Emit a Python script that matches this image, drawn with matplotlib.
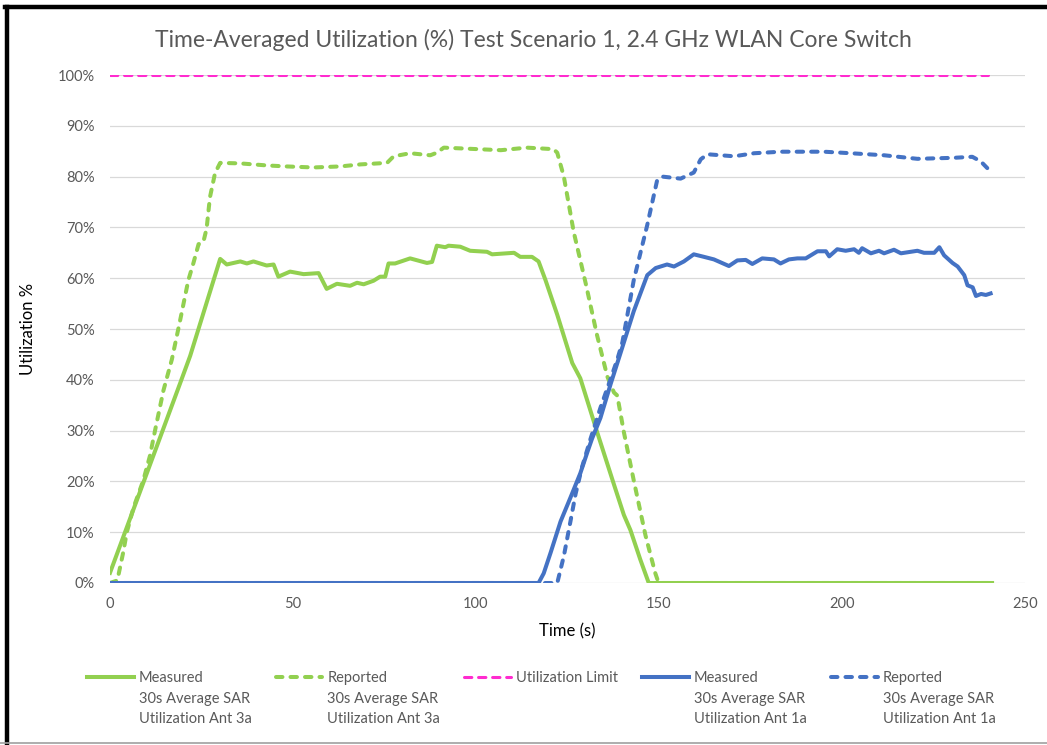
import matplotlib
matplotlib.use("Agg")
import matplotlib.pyplot as plt
from matplotlib.lines import Line2D
from matplotlib.ticker import FuncFormatter

plt.rcParams['font.family'] = ['Lato', 'DejaVu Sans']

# Measured 30s average SAR utilization, Ant 3a (green solid)
t_meas_3a = [0, 19.1, 21.9, 30.1, 31.9, 35.6, 37.4, 39.2, 42.8, 44.7, 46.0, 49.2, 52.9, 57.0,
             59.2, 62.0, 65.6, 67.5, 69.3, 72.0, 73.8, 75.2, 76.1, 77.9, 82.0, 86.6, 88.0, 89.3,
             91.6, 92.5, 95.7, 98.4, 103.0, 104.4, 110.4, 112.1, 115.3, 117.1, 119.0, 122.2,
             126.3, 128.5, 133.1, 137.6, 140.4, 142.2, 144.9, 147.2, 241]
u_meas_3a = [2, 39.2, 44.7, 63.8, 62.7, 63.3, 62.9, 63.3, 62.5, 62.7, 60.3, 61.3, 60.8, 61.0,
             57.9, 58.9, 58.5, 59.1, 58.8, 59.5, 60.3, 60.3, 62.9, 62.9, 63.9, 63.0, 63.2, 66.4,
             66.1, 66.4, 66.2, 65.4, 65.2, 64.7, 65.0, 64.2, 64.2, 63.3, 59.6, 52.8,
             43.3, 40.3, 29.7, 19.6, 13.4, 10.4, 4.6, 0, 0]

# Reported 30s average SAR utilization, Ant 3a (green dashed)
t_rep_3a = [0, 2.0, 3.6, 4.6, 6.4, 9.1, 10.9, 12.3, 14.6, 16.9, 19.1, 21.4, 22.8, 24.2, 25.5,
            26.4, 27.3, 28.7, 30.1, 35.6, 42.8, 48.3, 55.6, 62.9, 68.4, 75.7, 77.5, 82.0, 87.5,
            89.3, 91.2, 97.5, 106.8, 113.9, 121.2, 122.2, 124.0, 126.7, 130.0, 133.1, 135.9,
            137.7, 138.6, 140.4, 143.1, 146.3, 149.0, 149.9, 240]
u_rep_3a = [0, 0.5, 6.0, 10.0, 14.8, 20.2, 25.0, 30.0, 37.9, 44.0, 51.5, 59.6, 63.0, 66.7, 67.1,
            69.8, 75.9, 80.7, 82.7, 82.6, 82.2, 82.0, 81.8, 82.0, 82.4, 82.7, 84.0, 84.6, 84.2,
            84.7, 85.7, 85.5, 85.2, 85.7, 85.4, 84.7, 80.0, 69.1, 58.9, 48.7, 40.6,
            37.5, 36.9, 29.7, 20.2, 9.4, 1.9, 0, 0]

# Utilization limit
t_limit = [0, 240]
u_limit = [100, 100]

# Measured 30s average SAR utilization, Ant 1a (blue solid)
t_meas_1a = [0, 117.1, 118.5, 120.4, 123.1, 125.8, 128.5, 130.4, 131.7, 134.0, 136.8, 139.5,
             143.1, 146.8, 149.1, 152.2, 154.1, 156.8, 159.5, 162.3, 165.0, 169.1, 171.4, 173.7,
             175.5, 178.2, 181.4, 183.2, 185.5, 187.8, 190.1, 193.3, 195.6, 196.5, 198.7, 201.0,
             203.3, 204.6, 205.5, 207.9, 210.1, 211.5, 214.2, 216.1, 220.6, 222.4, 225.2, 226.6,
             227.9, 230.2, 231.6, 233.4, 234.3, 235.7, 236.6, 238.0, 239.3, 240.6]
u_meas_1a = [0, 0, 1.9, 6.0, 12.1, 16.8, 21.6, 25.7, 28.4, 32.5, 39.2, 45.3,
             53.5, 60.6, 62.0, 62.7, 62.3, 63.3, 64.7, 64.2, 63.7, 62.4, 63.5, 63.6,
             62.8, 63.9, 63.7, 62.9, 63.7, 63.9, 63.9, 65.3, 65.3, 64.3, 65.7, 65.4,
             65.7, 65.0, 65.9, 64.9, 65.4, 64.9, 65.6, 64.9, 65.4, 65.0, 65.0, 66.1,
             64.5, 63.0, 62.3, 60.6, 58.6, 58.2, 56.5, 56.9, 56.7, 57.0]

# Reported 30s average SAR utilization, Ant 1a (blue dashed)
t_rep_1a = [0, 122.2, 124.0, 125.8, 127.2, 129.0, 131.3, 134.0, 136.3, 138.6, 140.0, 143.1,
            146.8, 149.5, 150.9, 155.9, 159.5, 161.4, 163.2, 170.5, 176.0, 183.3, 195.1, 202.4,
            211.5, 220.6, 230.6, 235.6, 237.9, 240.6]
u_rep_1a = [0, 0, 5.3, 12.1, 17.5, 22.9, 28.4, 34.5, 39.2, 44.0, 47.4, 59.6,
            70.5, 79.3, 80.0, 79.6, 80.8, 83.4, 84.4, 84.0, 84.6, 84.9, 84.9, 84.6,
            84.2, 83.5, 83.7, 83.9, 83.0, 81.0]

labels = ["Measured\n30s Average SAR\nUtilization Ant 3a",
          "Reported\n30s Average SAR\nUtilization Ant 3a",
          "Utilization Limit",
          "Measured\n30s Average SAR\nUtilization Ant 1a",
          "Reported\n30s Average SAR\nUtilization Ant 1a"]

green = "#92D050"
blue = "#4472C4"
pink = "#FF2BCF"
grey = "#595959"
dash = (1.6, 2.0)

fig = plt.figure(figsize=(10.47, 7.45), dpi=100)
ax = fig.add_axes([110 / 1047, 1 - 583 / 745, 915 / 1047, 508 / 745])

lw = 2.9
ax.plot(t_meas_3a, u_meas_3a, color=green, lw=lw, solid_joinstyle='round', label=labels[0])
ax.plot(t_rep_3a, u_rep_3a, color=green, lw=lw, ls=(0, dash), dash_capstyle='round',
        dash_joinstyle='round', label=labels[1])
ax.plot(t_limit, u_limit, color=pink, lw=2.2, ls=(0, (2.4, 2.2)), dash_capstyle='round',
        label=labels[2])
ax.plot(t_meas_1a, u_meas_1a, color=blue, lw=lw, solid_joinstyle='round', label=labels[3])
ax.plot(t_rep_1a, u_rep_1a, color=blue, lw=lw, ls=(0, dash), dash_capstyle='round',
        dash_joinstyle='round', label=labels[4])

ax.set_xlim(0, 250)
ax.set_ylim(0, 100)
ax.set_xticks(range(0, 251, 50))
ax.set_yticks(range(0, 101, 10))
ax.yaxis.set_major_formatter(FuncFormatter(lambda v, p: f"{v:.0f}%"))
ax.grid(axis='y', color="#D9D9D9", lw=0.9)
ax.set_axisbelow(True)
for s in ax.spines.values():
    s.set_visible(False)
ax.tick_params(length=0, labelsize=10.5, labelcolor=grey)
ax.tick_params(axis='y', pad=11)
ax.tick_params(axis='x', pad=10)

ax.set_xlabel("Time (s)", fontsize=12, color='black')
ax.xaxis.set_label_coords(0.5, -0.08)
ax.set_ylabel("Utilization %", fontsize=12, color='black')
ax.yaxis.set_label_coords(-0.081, 0.5)

fig.text(533 / 1047, 1 - 40 / 745, "Time-Averaged Utilization (%) Test Scenario 1, 2.4 GHz WLAN Core Switch",
         ha='center', va='center', fontsize=16.5, color=grey)

leg = fig.legend(loc='upper left', bbox_to_anchor=(87 / 1047, 1 - 671 / 745), ncol=5,
                 frameon=False, fontsize=10.5, handlelength=3.2, handleheight=1.0,
                 handletextpad=0.35, columnspacing=1.65, borderpad=0, borderaxespad=0,
                 labelspacing=0.5)
for txt in leg.get_texts():
    txt.set_color(grey)
    txt.set_linespacing(1.6)
# keep every handle level with the first line of its label, as in Excel
leg._legend_handle_box.align = 'top'
for col in leg._legend_handle_box.get_children():
    col.align = 'left'
    for item in col.get_children():
        item.align = 'top'

# chart frame
fig.add_artist(Line2D([5 / 1047, 1], [1 - 7 / 745, 1 - 7 / 745], color='black', lw=3.2,
                      transform=fig.transFigure))
fig.add_artist(Line2D([7 / 1047, 7 / 1047], [0, 1 - 7 / 745], color='black', lw=3.2,
                      transform=fig.transFigure))
fig.add_artist(Line2D([0, 1], [2 / 745, 2 / 745], color='#A0A0A0', lw=1.2,
                      transform=fig.transFigure))

fig.savefig("out.png", dpi=100)
